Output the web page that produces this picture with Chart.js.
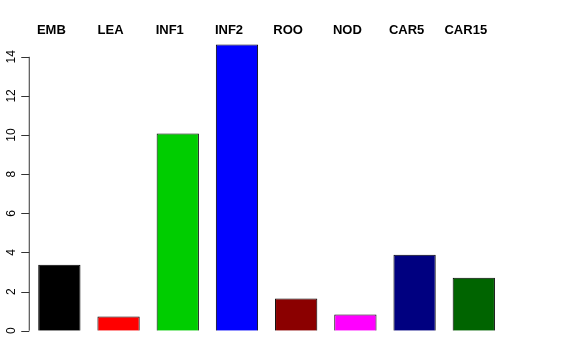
<!DOCTYPE html>
<html>
<head>
<meta charset="utf-8">
<script src="https://cdn.jsdelivr.net/npm/chart.js@4"></script>
<style>
  body { margin: 0; background: #fff; }
</style>
</head>
<body>
<canvas id="barChart" width="576" height="360"></canvas>
<script>
// data
const categories = ['EMB', 'LEA', 'INF1', 'INF2', 'ROO', 'NOD', 'CAR5', 'CAR15'];
const values = [3.37, 0.73, 10.08, 14.63, 1.65, 0.83, 3.88, 2.71];
const barColors = ['#000000', '#ff0000', '#00cd00', '#0000ff', '#8b0000', '#ff00ff', '#000080', '#006400'];
const yTicks = [0, 2, 4, 6, 8, 10, 12, 14];

// R style left axis: line only from first to last tick, rotated labels
const rAxis = {
    id: 'rAxis',
    afterDraw(chart) {
        const ctx = chart.ctx;
        const y = chart.scales.y;
        const x0 = chart.chartArea.left - 0.5;
        ctx.save();
        ctx.strokeStyle = '#333';
        ctx.lineWidth = 1;
        ctx.beginPath();
        ctx.moveTo(x0, y.getPixelForValue(yTicks[0]));
        ctx.lineTo(x0, y.getPixelForValue(yTicks[yTicks.length - 1]));
        yTicks.forEach(function (v) {
            const py = Math.round(y.getPixelForValue(v)) + 0.5;
            ctx.moveTo(x0, py);
            ctx.lineTo(x0 - 8, py);
        });
        ctx.stroke();

        ctx.fillStyle = '#000';
        ctx.font = '12px "Liberation Sans", Arial, sans-serif';
        ctx.textAlign = 'center';
        ctx.textBaseline = 'middle';
        yTicks.forEach(function (v) {
            ctx.save();
            ctx.translate(x0 - 18, y.getPixelForValue(v));
            ctx.rotate(-Math.PI / 2);
            ctx.fillText(String(v), 0, 0);
            ctx.restore();
        });
        ctx.restore();
    }
};

new Chart(document.getElementById('barChart'), {
    type: 'bar',
    data: {
        labels: categories,
        datasets: [{
            data: values,
            backgroundColor: barColors,
            borderColor: '#000',
            borderWidth: 1,
            categoryPercentage: 1,
            barPercentage: 0.714
        }]
    },
    options: {
        responsive: false,
        animation: false,
        devicePixelRatio: 1,
        layout: {
            padding: { left: 29.75, right: 72.6, top: 20.4, bottom: 29.3 }
        },
        plugins: {
            legend: { display: false },
            tooltip: { enabled: false }
        },
        scales: {
            x: {
                position: 'top',
                grid: { display: false, drawTicks: false },
                border: { display: false },
                ticks: {
                    padding: 2,
                    labelOffset: -8,
                    color: '#000',
                    font: { family: '"Liberation Sans", Arial, sans-serif', size: 13, weight: 'bold' }
                }
            },
            y: {
                display: false,
                min: 0,
                max: 14.86
            }
        }
    },
    plugins: [rAxis]
});
</script>
</body>
</html>
